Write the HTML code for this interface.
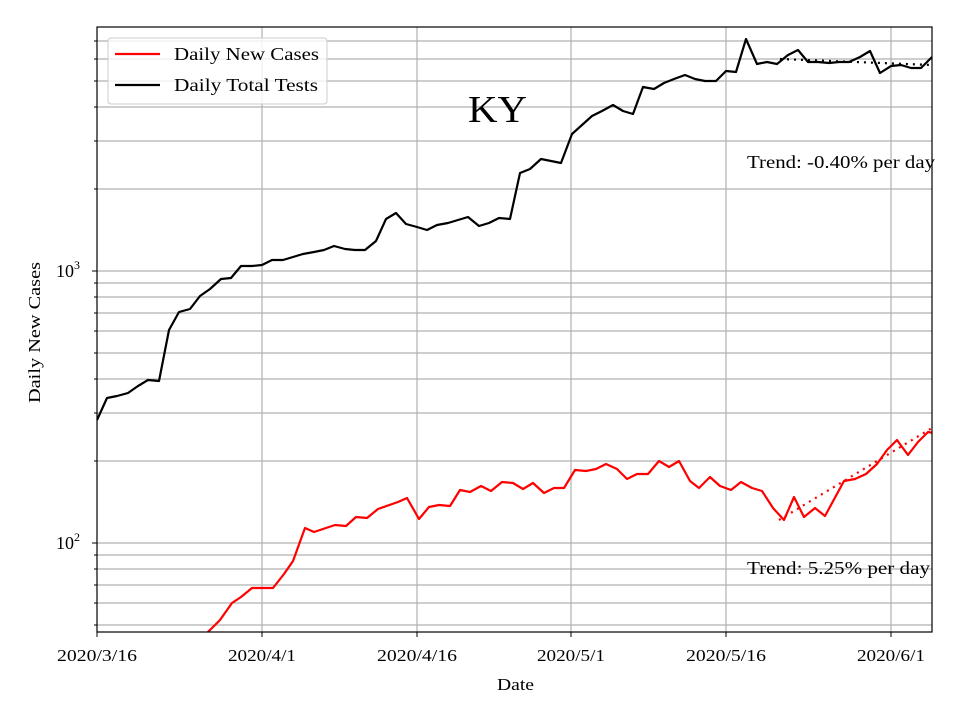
<!DOCTYPE html>
<html><head><meta charset="utf-8"><style>body{margin:0;background:#fff}svg{display:block}text{font-family:"Liberation Serif",serif;fill:#000}</style></head>
<body>
<svg width="960" height="720" viewBox="0 0 960 720" xmlns="http://www.w3.org/2000/svg">
<rect width="960" height="720" fill="#fff"/>
<g stroke="#b0b0b0" stroke-width="1.2" fill="none">
<path d="M97 625H932M97 603H932M97 585H932M97 569H932M97 555H932M97 543H932M97 461H932M97 413H932M97 379H932M97 353H932M97 331H932M97 313H932M97 297H932M97 283H932M97 271H932M97 189H932M97 141H932M97 107H932M97 81H932M97 59H932M97 41H932"/>
<path d="M262 27V632M417 27V632M571 27V632M726 27V632M891 27V632"/>
</g>
<defs><clipPath id="c"><rect x="97" y="27" width="835" height="605"/></clipPath></defs>
<g clip-path="url(#c)" fill="none" stroke-width="2.2" stroke-linejoin="round">
<polyline stroke="#000" points="97,420 107,398 117,396 128,393 138,386 148,380 159,381 169,330 179,312 190,309 200,296 210,289 221,279 231,278 241,266 252,266 262,265 272,260 283,260 293,257 303,254 314,252 324,250 334,246 345,249 355,250 365,250 376,241 386,219 396,213 406,224 417,227 427,230 437,225 448,223 458,220 468,217 479,226 489,223 499,218 510,219 520,173 530,169 541,159 551,161 561,163 572,134 582,125 592,116 602,111 613,105 623,111 633,114 643,87 654,89 664,83 674,79 685,75 695,79 705,81 716,81 726,71 736,72 746,39 757,64 767,62 777,64 788,55 798,50 808,62 818,62 829,63 839,62 849,62 860,57 870,51 880,73 891,66 901,65 911,68 921,68 932,57"/>
<line x1="780" y1="59" x2="932" y2="65" stroke="#000" stroke-dasharray="2,5"/>
<polyline stroke="#f00" points="200,640 209,631 220,620 232,603 241,597 252,588 273,588 284,574 293,561 305,528 314,532 335,525 346,526 356,517 367,518 378,509 398,502 407,498 419,519 429,507 439,505 450,506 460,490 470,492 481,486 491,491 502,482 513,483 523,489 533,483 544,493 554,488 564,488 575,470 586,471 596,469 606,464 617,469 627,479 637,474 648,474 659,461 669,467 679,461 690,481 699,488 710,477 720,486 731,490 741,482 752,488 762,491 773,508 784,520 794,497 804,517 815,508 825,516 844,481 855,479 866,474 877,464 887,450 897,440 908,455 918,442 928,432 938,434"/>
<line x1="779" y1="520" x2="932" y2="428" stroke="#f00" stroke-dasharray="2,5"/>
</g>
<rect x="97" y="27" width="835" height="605" fill="none" stroke="#000" stroke-width="1.2"/>
<g stroke="#000" stroke-width="1">
<path d="M97 632v5M262 632v5M417 632v5M571 632v5M726 632v5M891 632v5"/>
<path d="M97 271h-5M97 543h-5"/>
<path d="M97 625h-3M97 603h-3M97 585h-3M97 569h-3M97 555h-3M97 461h-3M97 413h-3M97 379h-3M97 353h-3M97 331h-3M97 313h-3M97 297h-3M97 283h-3M97 189h-3M97 141h-3M97 107h-3M97 81h-3M97 59h-3M97 41h-3"/>
</g>
<g font-size="17">
<text x="57" y="661" textLength="80" lengthAdjust="spacingAndGlyphs">2020/3/16</text>
<text x="228" y="661" textLength="68" lengthAdjust="spacingAndGlyphs">2020/4/1</text>
<text x="377" y="661" textLength="80" lengthAdjust="spacingAndGlyphs">2020/4/16</text>
<text x="537" y="661" textLength="68" lengthAdjust="spacingAndGlyphs">2020/5/1</text>
<text x="686" y="661" textLength="80" lengthAdjust="spacingAndGlyphs">2020/5/16</text>
<text x="857" y="661" textLength="68" lengthAdjust="spacingAndGlyphs">2020/6/1</text>
<text x="497" y="690" textLength="37" lengthAdjust="spacingAndGlyphs">Date</text>
<text transform="translate(40,403) rotate(-90)" textLength="141" lengthAdjust="spacingAndGlyphs">Daily New Cases</text>
</g>
<text x="56" y="277" font-size="18">10<tspan font-size="12" dy="-8">3</tspan></text>
<text x="56" y="549" font-size="18">10<tspan font-size="12" dy="-8">2</tspan></text>
<text x="468" y="122" font-size="38" textLength="59" lengthAdjust="spacingAndGlyphs">KY</text>
<text x="747" y="168" font-size="18" textLength="188" lengthAdjust="spacingAndGlyphs">Trend: -0.40% per day</text>
<text x="747" y="574" font-size="18" textLength="183" lengthAdjust="spacingAndGlyphs">Trend: 5.25% per day</text>
<rect x="108" y="38" width="219" height="66" rx="3" fill="#fff" fill-opacity="0.8" stroke="#ccc"/>
<line x1="115" y1="54" x2="160" y2="54" stroke="#f00" stroke-width="2.2"/>
<line x1="115" y1="85" x2="160" y2="85" stroke="#000" stroke-width="2.2"/>
<text x="174" y="60" font-size="18" textLength="145" lengthAdjust="spacingAndGlyphs">Daily New Cases</text>
<text x="174" y="91" font-size="18" textLength="144" lengthAdjust="spacingAndGlyphs">Daily Total Tests</text>
</svg>
</body></html>
